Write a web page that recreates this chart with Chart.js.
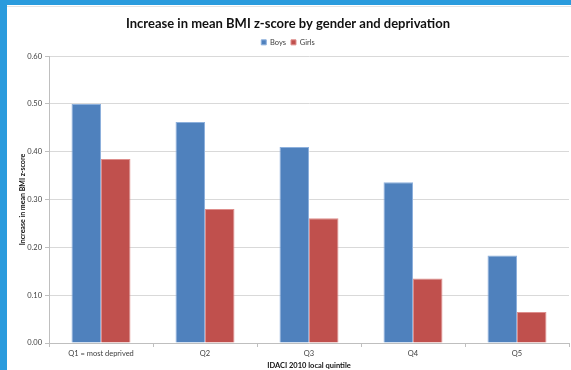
<!DOCTYPE html>
<html>
<head>
<meta charset="utf-8">
<script src="https://cdn.jsdelivr.net/npm/chart.js@4/dist/chart.umd.min.js"></script>
<style>
  html, body { margin: 0; padding: 0; background: #ffffff; }
  #frame {
    position: absolute; left: 0; top: 0;
    width: 564px; height: 365px;
    border-left: 7px solid #2A9BDD;
    border-top: 5px solid #2A9BDD;
    background: #ffffff;
  }
  #wrap { position: absolute; left: 0; top: 1px; width: 564px; height: 364px; border-top: 1px solid #e4e4e4; }
</style>
</head>
<body>
<div id="frame"><div id="wrap"><canvas id="c" width="564" height="364"></canvas></div></div>
<script>
// Quintiles of the IDACI 2010 deprivation index (local)
const categories = ['Q1 = most deprived', 'Q2', 'Q3', 'Q4', 'Q5'];
// Increase in mean BMI z-score
const boys  = [0.500, 0.462, 0.410, 0.336, 0.183];
const girls = [0.385, 0.280, 0.261, 0.135, 0.065];
const yTicks = [0.00, 0.10, 0.20, 0.30, 0.40, 0.50, 0.60];

const FONT = 'Lato, "Liberation Sans", sans-serif';

new Chart(document.getElementById('c'), {
  type: 'bar',
  data: {
    labels: categories,
    datasets: [
      { label: 'Boys',  data: boys,  backgroundColor: '#4F81BD', borderColor: '#8DB0DC', borderWidth: 1 },
      { label: 'Girls', data: girls, backgroundColor: '#C0504D', borderColor: '#DE8E8C', borderWidth: 1 }
    ]
  },
  options: {
    responsive: false,
    animation: false,
    devicePixelRatio: 1,
    layout: { padding: { left: 0, right: 2, top: 0, bottom: 0 } },
    datasets: { bar: { categoryPercentage: 0.567, barPercentage: 1.0 } },
    plugins: {
      title: {
        display: true,
        text: 'Increase in mean BMI z-score by gender and deprivation',
        color: '#111111',
        font: { family: FONT, size: 13, weight: 'bold' },
        padding: { top: 9, bottom: 2 }
      },
      legend: {
        display: true,
        position: 'top',
        labels: {
          color: '#404040',
          font: { family: FONT, size: 7.5 },
          boxWidth: 5, boxHeight: 5, padding: 5
        }
      },
      tooltip: { enabled: false }
    },
    scales: {
      x: {
        grid: { drawOnChartArea: false, drawTicks: true, tickLength: 4, color: '#bfbfbf', offset: true },
        border: { color: '#bfbfbf' },
        ticks: { color: '#404040', font: { family: FONT, size: 7.5 }, padding: 2, maxRotation: 0 },
        title: {
          display: true, text: 'IDACI 2010 local quintile',
          color: '#111111', font: { family: FONT, size: 7.5, weight: 'bold' }, padding: { top: 1, bottom: 1 }
        }
      },
      y: {
        min: 0, max: 0.6,
        afterBuildTicks: (s) => { s.ticks = yTicks.map(v => ({ value: v })); },
        afterFit: (s) => { s.width = 42; },
        grid: { color: '#d9d9d9', tickLength: 4, tickColor: '#bfbfbf' },
        border: { color: '#bfbfbf' },
        ticks: {
          color: '#404040', font: { family: FONT, size: 7.5 }, padding: 3,
          callback: (v) => Number(v).toFixed(2)
        },
        title: {
          display: true, text: 'Increase in mean BMI z-score',
          color: '#111111', font: { family: FONT, size: 7, weight: 'bold' }, padding: { top: 12, bottom: 0 }
        }
      }
    }
  }
});
</script>
</body>
</html>
